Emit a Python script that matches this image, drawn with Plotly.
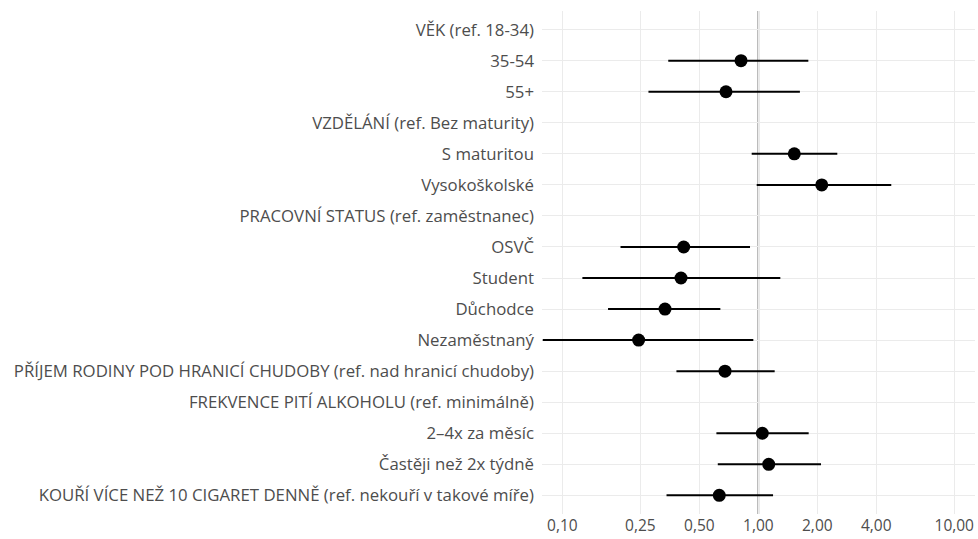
import numpy as np
import plotly.graph_objects as go

labels = [
    "VĚK (ref. 18-34)",
    "35-54",
    "55+",
    "VZDĚLÁNÍ (ref. Bez maturity)",
    "S maturitou",
    "Vysokoškolské",
    "PRACOVNÍ STATUS (ref. zaměstnanec)",
    "OSVČ",
    "Student",
    "Důchodce",
    "Nezaměstnaný",
    "PŘÍJEM RODINY POD HRANICÍ CHUDOBY (ref. nad hranicí chudoby)",
    "FREKVENCE PITÍ ALKOHOLU (ref. minimálně)",
    "2–4x za měsíc",
    "Častěji než 2x týdně",
    "KOUŘÍ VÍCE NEŽ 10 CIGARET DENNĚ (ref. nekouří v takové míře)",
]
odds_ratio = [None, 0.816, 0.684, None, 1.526, 2.107, None, 0.416, 0.403, 0.334, 0.245, 0.676, None, 1.048, 1.13, 0.632]
ci_low = [None, 0.347, 0.275, None, 0.925, 0.981, None, 0.198, 0.1265, 0.171, 0.0794, 0.382, None, 0.611, 0.621, 0.340]
ci_high = [None, 1.80, 1.63, None, 2.53, 4.77, None, 0.907, 1.295, 0.640, 0.943, 1.212, None, 1.807, 2.089, 1.189]

tick_vals = [0.1, 0.25, 0.5, 1, 2, 4, 10]
tick_text = ["0,10", "0,25", "0,50", "1,00", "2,00", "4,00", "10,00"]
ref_value = 1
x_limits = [0.0787, 12.76]

plus = [None if o is None else h - o for o, h in zip(odds_ratio, ci_high)]
minus = [None if o is None else o - l for o, l in zip(odds_ratio, ci_low)]

FONT = "Open Sans, sans-serif"
TXT = "#4d4d4d"

fig = go.Figure()
fig.add_trace(go.Scatter(
    x=odds_ratio, y=labels, mode="markers",
    marker=dict(color="black", size=13),
    error_x=dict(type="data", array=plus, arrayminus=minus, symmetric=False,
                 color="black", thickness=2, width=0),
    showlegend=False,
))

fig.add_shape(type="line", xref="x", yref="paper",
              x0=ref_value, x1=ref_value, y0=0, y1=1,
              line=dict(color="#7f7f7f", width=1.7), layer="between")

fig.update_layout(
    width=978, height=539,
    margin=dict(l=542, r=3, t=11, b=25, autoexpand=False),
    paper_bgcolor="white", plot_bgcolor="white",
    font=dict(family=FONT, size=16.8, color=TXT),
    xaxis=dict(
        type="log",
        range=[np.log10(x_limits[0]), np.log10(x_limits[1])],
        tickvals=tick_vals, ticktext=tick_text,
        showgrid=True, gridcolor="#ebebeb", gridwidth=1.2,
        zeroline=False, showline=False, ticks="",
        tickfont=dict(size=15.5, color=TXT),
    ),
    yaxis=dict(
        type="category",
        categoryorder="array", categoryarray=labels,
        range=[len(labels) - 0.4, -0.6],
        showgrid=True, gridcolor="#ebebeb", gridwidth=1.2,
        zeroline=False, showline=False, ticks="",
        ticklabelstandoff=7,
        tickfont=dict(size=16.8, color=TXT),
    ),
)

fig.write_html(
    "out.html",
    config={"displayModeBar": False},
    post_script="document.body.style.margin='0';document.body.style.overflow='hidden';",
)
